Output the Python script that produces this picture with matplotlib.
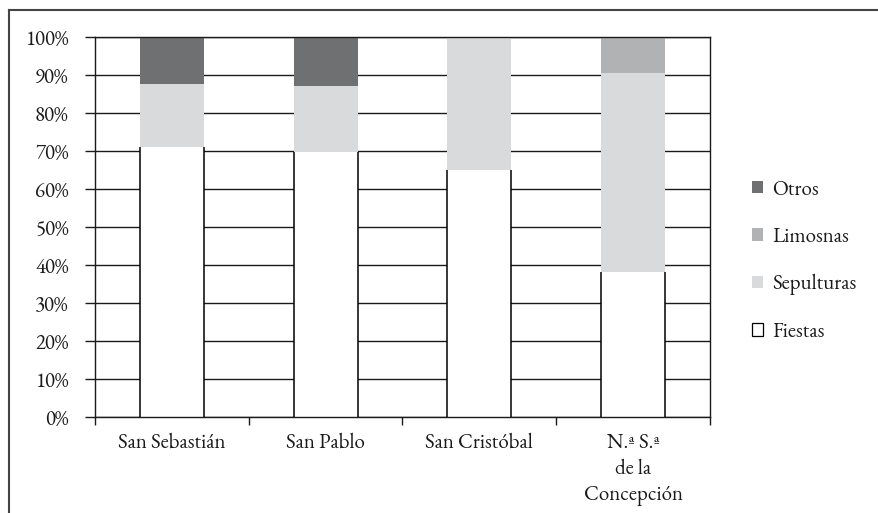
import matplotlib
matplotlib.use("Agg")
import matplotlib.pyplot as plt
from matplotlib.patches import Patch
from matplotlib.lines import Line2D
import numpy as np

categories = ["San Sebastián", "San Pablo", "San Cristóbal", "N.ª S.ª\nde la\nConcepción"]
fiestas = [71.0, 69.8, 65.0, 38.2]
sepulturas = [16.7, 17.2, 35.0, 52.2]
limosnas = [0.0, 0.0, 0.0, 9.6]
otros = [12.3, 13.0, 0.0, 0.0]
series_names = ["Fiestas", "Sepulturas", "Limosnas", "Otros"]
colors = {"Fiestas": "#ffffff", "Sepulturas": "#d9dadb", "Limosnas": "#b1b2b3", "Otros": "#6f7072"}
yticks = list(range(0, 101, 10))

plt.rcParams['font.family'] = ['EB Garamond', 'Liberation Serif', 'DejaVu Serif']
plt.rcParams['text.color'] = '#1a1a1a'
FS = 15

fig = plt.figure(figsize=(8.79, 5.13), dpi=100)
ax = fig.add_axes([95/879, 1 - 417/513, (710-95)/879, (417-37)/513])

x = np.arange(len(categories))
w = 0.415
ax.set_axisbelow(True)
ax.yaxis.grid(True, color="#1a1a1a", linewidth=1.0)

bars_f = ax.bar(x, fiestas, w, color=colors["Fiestas"], edgecolor="none", zorder=2)
bottom = np.array(fiestas)
for name, vals in [("Sepulturas", sepulturas), ("Limosnas", limosnas), ("Otros", otros)]:
    ax.bar(x, vals, w, bottom=bottom, color=colors[name], edgecolor="none", zorder=2)
    bottom = bottom + np.array(vals)

# side edges of Fiestas bars
for p in bars_f.patches:
    x0, x1 = p.get_x(), p.get_x() + p.get_width()
    h = p.get_height()
    ax.plot([x0, x0], [0, h], color="black", lw=1.1, zorder=3, solid_capstyle="butt")
    ax.plot([x1, x1], [0, h], color="black", lw=1.1, zorder=3, solid_capstyle="butt")

ax.set_xlim(-0.5, len(categories) - 0.5)
ax.set_ylim(0, 100)
ax.set_yticks(yticks)
ax.set_yticklabels([f"{v}%" for v in yticks])
ax.tick_params(axis="y", direction="out", length=7, width=1, pad=12, labelsize=FS,
               colors="#1a1a1a")

ax.set_xticks(np.arange(-0.5, len(categories), 1.0))
ax.set_xticklabels([])
ax.set_xticks(x, minor=True)
ax.set_xticklabels(categories, minor=True, linespacing=1.3)
ax.tick_params(axis="x", which="major", direction="out", length=6, width=1, colors="#1a1a1a")
ax.tick_params(axis="x", which="minor", length=0, pad=11, labelsize=FS, labelcolor="#1a1a1a")
for lab in ax.get_xticklabels(minor=True):
    lab.set_verticalalignment("top")
    lab.set_horizontalalignment("center")
    lab.set_multialignment("center")

for s in ax.spines.values():
    s.set_color("#1a1a1a")
    s.set_linewidth(1.0)

handles = [
    Patch(facecolor=colors["Otros"], edgecolor="none", label="Otros"),
    Patch(facecolor=colors["Limosnas"], edgecolor="none", label="Limosnas"),
    Patch(facecolor=colors["Sepulturas"], edgecolor="none", label="Sepulturas"),
    Patch(facecolor=colors["Fiestas"], edgecolor="black", linewidth=0.9, label="Fiestas"),
]
fig.legend(handles=handles, loc="center left", bbox_to_anchor=(752/879, 1 - 261/513),
           frameon=False, fontsize=FS, handlelength=0.55, handleheight=0.55,
           handletextpad=0.42, labelspacing=1.25, borderpad=0, borderaxespad=0)

# figure frame (top and left)
fig.add_artist(Line2D([9/879, 1], [1 - 10/513, 1 - 10/513], transform=fig.transFigure, color="#444444", lw=1.5))
fig.add_artist(Line2D([9/879, 9/879], [0, 1 - 10/513], transform=fig.transFigure, color="#444444", lw=1.5))

fig.savefig("out.png", dpi=100)
